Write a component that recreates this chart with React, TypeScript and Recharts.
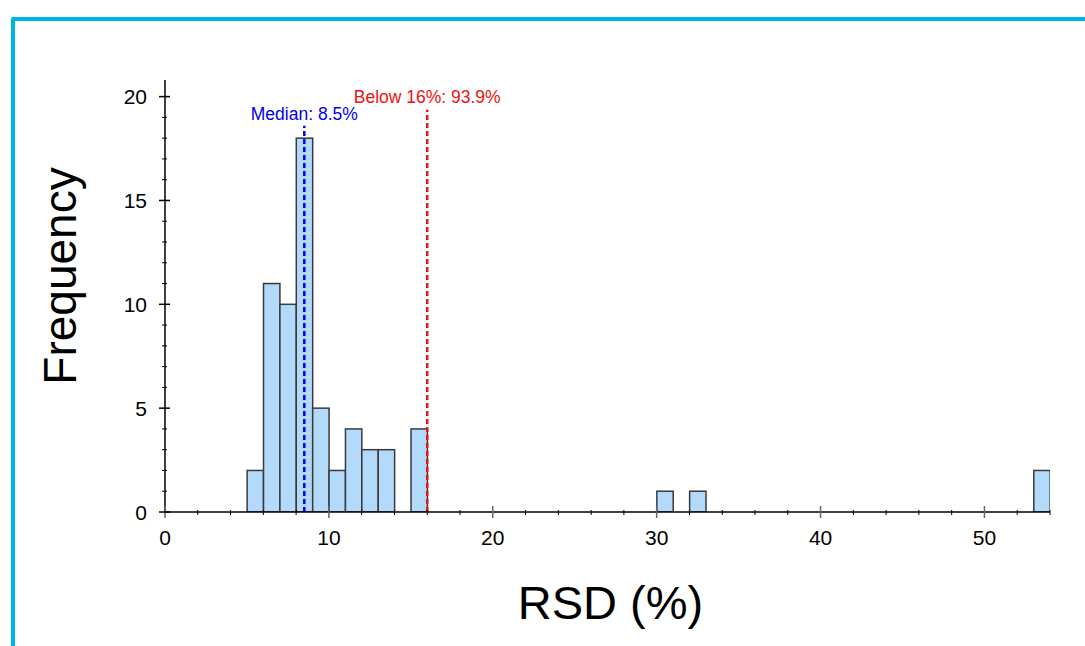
import React from 'react';
import { ComposedChart, Bar, XAxis, YAxis, ReferenceLine } from 'recharts';

// ---- data ----
const binStarts = [5, 6, 7, 8, 9, 10, 11, 12, 13, 15, 30, 32, 53];
const counts = [2, 11, 10, 18, 5, 2, 4, 3, 3, 4, 1, 1, 2];
const binWidth = 1;
const xTicks = [0, 2, 4, 6, 8, 10, 12, 14, 16, 18, 20, 22, 24, 26, 28, 30, 32, 34, 36, 38, 40, 42, 44, 46, 48, 50, 52, 54];
const xMajorTicks = [0, 10, 20, 30, 40, 50];
const yTicks = [0, 1, 2, 3, 4, 5, 6, 7, 8, 9, 10, 11, 12, 13, 14, 15, 16, 17, 18, 19, 20];
const yMajorTicks = [0, 5, 10, 15, 20];
const xDomain = [0, 54];
const yDomain = [0, 20.8];
const medianValue = 8.5;
const medianLabel = 'Median: 8.5%';
const medianTop = 18.6;
const thresholdValue = 16;
const thresholdLabel = 'Below 16%: 93.9%';
const thresholdTop = 19.37;
const xTitle = 'RSD (%)';
const yTitle = 'Frequency';

const data = binStarts.map((s, i) => ({ center: s + binWidth / 2, count: counts[i] }));

// ---- layout ----
const W = 1085;
const H = 646;
const margin = { top: 80, right: 35, bottom: 0, left: 0 };
const yAxisWidth = 165;
const xAxisHeight = 134;
const plotWidth = W - margin.left - margin.right - yAxisWidth;
const barPx = (plotWidth * binWidth) / (xDomain[1] - xDomain[0]);
const FONT = '"Liberation Sans", Arial, Helvetica, sans-serif';

const XTick = (props: any) => {
  const { x, y, payload } = props;
  const major = xMajorTicks.includes(payload.value);
  return (
    <g>
      {major ? (
        <line x1={x} x2={x} y1={y - 6} y2={y + 6} stroke="#666" strokeWidth={1.5} />
      ) : (
        <line x1={x} x2={x} y1={y - 2} y2={y + 3} stroke="#000" strokeWidth={1} />
      )}
      {major && (
        <text x={x} y={y + 33} textAnchor="middle" fontSize={21} fontFamily={FONT} fill="#000">
          {payload.value}
        </text>
      )}
    </g>
  );
};

const YTick = (props: any) => {
  const { x, y, payload } = props;
  const major = yMajorTicks.includes(payload.value);
  return (
    <g>
      {major ? (
        <line x1={x - 6} x2={x + 5} y1={y} y2={y} stroke="#000" strokeWidth={1.5} />
      ) : (
        <line x1={x - 3} x2={x + 2} y1={y} y2={y} stroke="#000" strokeWidth={1} />
      )}
      {major && (
        <text x={x - 18} y={y + 7.5} textAnchor="end" fontSize={21} fontFamily={FONT} fill="#000">
          {payload.value}
        </text>
      )}
    </g>
  );
};

const HistBar = (props: any) => {
  const { x, y, width, height, fill, stroke, strokeWidth } = props;
  if (!height) return null;
  const cx = x + width / 2;
  return (
    <rect x={cx - barPx / 2} y={y} width={barPx} height={height} fill={fill} stroke={stroke} strokeWidth={strokeWidth} />
  );
};

const makeLineLabel = (text: string, color: string, dy: number) => (props: any) => {
  const vb = props.viewBox || {};
  return (
    <text x={vb.x} y={vb.y - dy} textAnchor="middle" fontSize={17.5} fontFamily={FONT} fill={color}>
      {text}
    </text>
  );
};

const XTitle = (props: any) => {
  const vb = props.viewBox || {};
  return (
    <text x={vb.x + vb.width / 2 + 3} y={vb.y + 107} textAnchor="middle" fontSize={47} fontFamily={FONT} fill="#000">
      {xTitle}
    </text>
  );
};

const YTitle = (props: any) => {
  const vb = props.viewBox || {};
  const cx = vb.x + 76;
  const cy = 276;
  return (
    <text x={cx} y={cy} transform={`rotate(-90, ${cx}, ${cy})`} textAnchor="middle" fontSize={46} fontFamily={FONT} fill="#000">
      {yTitle}
    </text>
  );
};

export default function App() {
  return (
    <div style={{ position: 'absolute', left: 0, top: 0, width: W, height: H, overflow: 'hidden', background: '#fff' }}>
      <div
        style={{
          position: 'absolute',
          left: 11,
          top: 17,
          width: W + 20,
          height: H + 20,
          borderTop: '4px solid #00b4e6',
          borderLeft: '4px solid #00b4e6',
          borderTopLeftRadius: 3,
          boxSizing: 'border-box',
        }}
      />
      <div style={{ position: 'absolute', left: 0, top: 0 }}>
        <ComposedChart width={W} height={H} data={data} margin={margin} barCategoryGap={0} barGap={0}>
          <XAxis
            dataKey="center"
            type="number"
            domain={xDomain}
            ticks={xTicks}
            interval={0}
            tickSize={0}
            tickMargin={0}
            tickLine={false}
            tick={<XTick />}
            axisLine={{ stroke: '#000', strokeWidth: 1.5 }}
            height={xAxisHeight}
            allowDataOverflow
            label={{ content: <XTitle /> } as any}
          />
          <YAxis
            type="number"
            domain={yDomain}
            ticks={yTicks}
            interval={0}
            tickSize={0}
            tickMargin={0}
            tickLine={false}
            tick={<YTick />}
            axisLine={{ stroke: '#000', strokeWidth: 1.5 }}
            width={yAxisWidth}
            allowDataOverflow
            label={{ content: <YTitle /> } as any}
          />
          <Bar
            dataKey="count"
            fill="#b3d9fb"
            stroke="#3a3a3a"
            strokeWidth={1.5}
            barSize={barPx}
            shape={<HistBar />}
            isAnimationActive={false}
          />
          <ReferenceLine
            segment={[{ x: medianValue, y: 0 }, { x: medianValue, y: medianTop }]}
            stroke="#0000ee"
            strokeWidth={2.5}
            strokeDasharray="5 3"
            label={makeLineLabel(medianLabel, '#0000ee', 6)}
          />
          <ReferenceLine
            segment={[{ x: thresholdValue, y: 0 }, { x: thresholdValue, y: thresholdTop }]}
            stroke="#ee1111"
            strokeWidth={2.5}
            strokeDasharray="5 3"
            label={makeLineLabel(thresholdLabel, '#ee1111', 7)}
          />
        </ComposedChart>
      </div>
    </div>
  );
}
